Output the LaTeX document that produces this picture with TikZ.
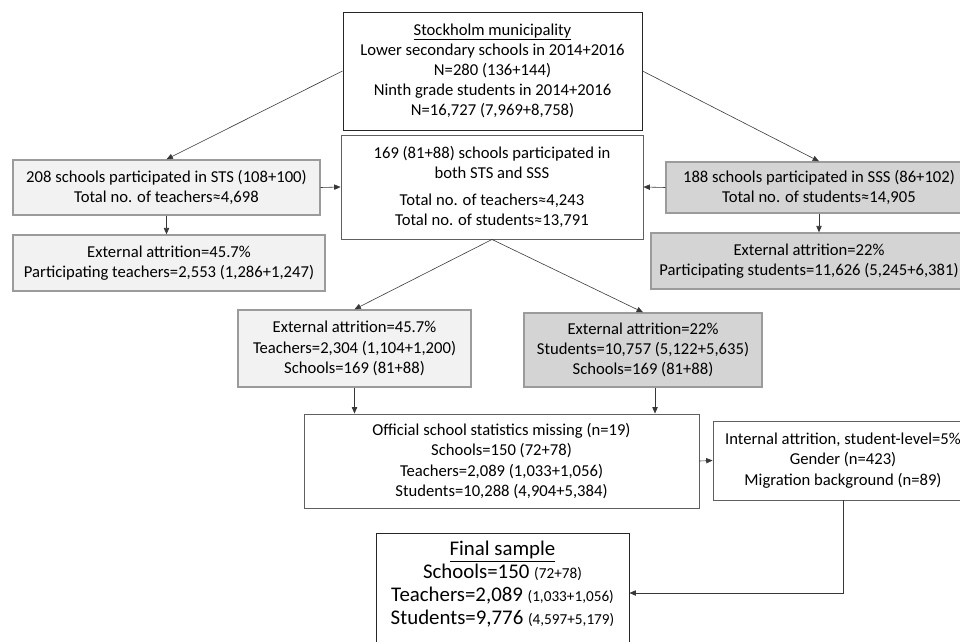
\documentclass[tikz,border=0pt]{standalone}
\usepackage{fontspec}
\setmainfont{Carlito}
\usetikzlibrary{arrows.meta,positioning}
\definecolor{boxlight}{RGB}{242,242,242}
\definecolor{boxdark}{RGB}{212,212,212}
\definecolor{edgegrey}{RGB}{155,155,155}
\definecolor{edgedark}{RGB}{95,95,95}
\definecolor{linegrey}{RGB}{55,55,55}

\begin{document}
\begin{tikzpicture}[x=0.3mm, y=-0.3mm,
    stage/.style={rectangle, draw=edgedark, fill=white, line width=0.8pt, align=center,
                  inner sep=2pt, font=\fontsize{14.2}{17.2}\selectfont},
    head/.style={stage, draw=black!85},
    stsbox/.style={stage, fill=boxlight, draw=edgegrey, line width=1.2pt},
    sssbox/.style={stage, fill=boxdark, draw=edgegrey, line width=1.2pt},
    big/.style={font=\fontsize{17.8}{19.5}\selectfont},
    flow/.style={-{Triangle[length=1.9mm,width=1.6mm]}, draw=linegrey, line width=0.5pt}
]
    \useasboundingbox (0,0) rectangle (960,641);
    \clip (0,0) rectangle (960,641);

    \node[head, minimum width=89.7mm, minimum height=35.4mm] (town) at (492.5,71)
        {\underline{Stockholm municipality}\\Lower secondary schools in 2014+2016\\N=280 (136+144)\\
         Ninth grade students in 2014+2016\\N=16,727 (7,969+8,758)};
    \node[stage, minimum width=90.6mm, minimum height=31.2mm] (both) at (492,187)
        {169 (81+88) schools participated in\\both STS and SSS\\[2mm]
         Total no. of teachers≈4,243\\Total no. of students≈13,791};

    % teacher survey (STS)
    \node[stsbox, minimum width=92.1mm, minimum height=16.5mm] (sts) at (166.5,187.5)
        {208 schools participated in STS (108+100)\\Total no. of teachers≈4,698};
    \node[stsbox, minimum width=93.6mm, minimum height=16.8mm] (stsatt) at (169,263)
        {External attrition=45.7\%\\Participating teachers=2,553 (1,286+1,247)};

    % student survey (SSS)
    \node[sssbox, minimum width=91.8mm, minimum height=15.3mm] (sss) at (819,187.5)
        {188 schools participated in SSS (86+102)\\Total no. of students≈14,905};
    \node[sssbox, minimum width=94.8mm, minimum height=16.8mm] (sssatt) at (809,261)
        {External attrition=22\%\\Participating students=11,626 (5,245+6,381)};

    \node[stsbox, minimum width=69.9mm, minimum height=23.1mm] (tchatt) at (354.5,348.5)
        {External attrition=45.7\%\\Teachers=2,304 (1,104+1,200)\\Schools=169 (81+88)};
    \node[sssbox, minimum width=71.4mm, minimum height=22.2mm] (stuatt) at (643,350)
        {External attrition=22\%\\Students=10,757 (5,122+5,635)\\Schools=169 (81+88)};

    \node[stage, minimum width=118.5mm, minimum height=28.2mm] (official) at (501.5,461)
        {Official school statistics missing (n=19)\\Schools=150 (72+78)\\
         Teachers=2,089 (1,033+1,056)\\Students=10,288 (4,904+5,384)};
    \node[stage, minimum width=78mm, minimum height=23.7mm] (internal) at (843,460.5)
        {Internal attrition, student-level=5\%\\Gender (n=423)\\Migration background (n=89)};

    \node[head, big, minimum width=75.9mm, minimum height=36mm] (final) at (502.5,593)
        {\underline{Final sample}\\Schools=150 {\fontsize{13}{15}\selectfont(72+78)}\\
         Teachers=2,089 {\fontsize{13}{15}\selectfont(1,033+1,056)}\\
         Students=9,776 {\fontsize{13}{15}\selectfont(4,597+5,179)}\rule[-6mm]{0pt}{6mm}};

    \draw[flow] (town.west) -- (sts.north);
    \draw[flow] (town.east) -- (sss.north);
    \draw[flow] (sts.east) -- (both.west);
    \draw[flow] (sss.west) -- (both.east);
    \draw[flow] (sts.south) -- (sts.south |- stsatt.north);
    \draw[flow] (sss.south) -- (sss.south |- sssatt.north);
    \draw[flow] (both.south) -- (tchatt.north);
    \draw[flow] (both.south) -- (stuatt.north);
    \draw[flow] (tchatt.south) -- (tchatt.south |- official.north);
    \draw[flow] ([xshift=3.6mm]stuatt.south) -- ([xshift=3.6mm]stuatt.south |- official.north);
    \draw[flow] (official.east) -- (internal.west);
    \draw[flow] (internal.south) |- (final.east);
\end{tikzpicture}
\end{document}
